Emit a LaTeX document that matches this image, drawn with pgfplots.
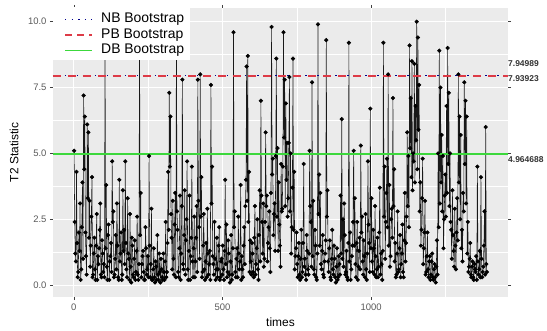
\documentclass[border=0pt]{standalone}
\usepackage{fontspec}
\setmainfont{Liberation Sans}
\usepackage{pgfplots}
\pgfplotsset{compat=1.18}
\definecolor{panelbg}{HTML}{EBEBEB}
\definecolor{nbcol}{HTML}{00008B}
\definecolor{pbcol}{HTML}{DD3B47}
\definecolor{dbcol}{HTML}{3CD83C}
\begin{document}
\begin{tikzpicture}
\begin{axis}[name=ax, scale only axis, width=455bp, height=289bp,
  xmin=-70, xmax=1460, ymin=-0.45, ymax=10.52,
  axis background/.style={fill=panelbg},
  axis line style={draw=none},
  xtick={0,500,1000}, xticklabels={0,500,1000},
  ytick={0,2.5,5,7.5,10}, yticklabels={0.0,2.5,5.0,7.5,10.0},
  minor xtick={250,750,1250}, minor ytick={1.25,3.75,6.25,8.75},
  grid=both,
  major grid style={white, line width=1.0bp},
  minor grid style={white, line width=0.5bp},
  tick align=outside, major tick length=3bp, minor tick length=0pt,
  tick style={black!75, line width=0.5bp},
  ticklabel style={font=\fontsize{9.5}{11}\selectfont, text=black!65},
  clip=false,
]
\addplot[black!90, line width=0.55bp, mark=*, mark size=1.8bp,
  mark options={draw=black, fill=black, solid}] coordinates {
(1,5.1)(3,2.4)(5,1.2)(7,0.9)(9,4.3)(11,1.6)(13,0.3)(15,0.5)(17,2.0)(19,1.3)(21,3.1)(23,0.2)(25,0.6)(27,2.2)(29,3.9)(31,1.0)(33,7.2)(35,4.4)(37,6.4)(39,2.0)(41,1.1)(43,0.4)(45,6.1)(47,3.3)(49,5.8)(51,1.8)(53,3.2)(55,0.7)(57,1.5)(59,2.6)(61,4.1)(63,0.3)(65,0.4)(67,1.2)(69,1.8)(71,0.6)(73,0.2)(75,1.5)(77,2.7)(79,0.2)(81,1.1)(83,0.8)(85,1.4)(87,2.1)(89,3.1)(91,0.4)(93,0.3)(95,1.7)(97,1.2)(99,0.5)
(101,0.8)(103,0.3)(105,9.6)(107,1.4)(109,3.8)(111,0.7)(113,0.2)(115,1.9)(117,2.3)(119,0.2)(121,0.9)(123,1.1)(125,1.6)(127,0.5)(129,4.7)(131,2.4)(133,2.8)(135,0.3)(137,0.4)(139,1.0)(141,1.9)(143,0.6)(145,3.1)(147,1.5)(149,0.3)(151,0.2)(153,4.0)(155,0.9)(157,1.2)(159,2.0)(161,0.2)(163,0.4)(165,3.6)(167,1.3)(169,2.1)(171,0.8)(173,4.7)(175,1.6)(177,0.6)(179,0.3)(181,3.3)(183,1.2)(185,1.0)(187,0.2)(189,2.7)(191,0.7)(193,0.1)(195,1.8)(197,1.5)(199,0.4)
(201,0.3)(203,1.0)(205,1.7)(207,0.2)(209,0.5)(211,1.3)(213,2.6)(215,0.4)(217,0.2)(219,0.8)(221,9.7)(223,1.9)(225,3.5)(227,0.3)(229,0.8)(231,1.1)(233,1.3)(235,0.5)(237,0.2)(239,0.2)(241,2.2)(243,1.4)(245,0.4)(247,0.6)(249,1.1)(251,0.3)(253,4.9)(255,1.5)(257,0.3)(259,0.8)(261,2.9)(263,0.2)(265,0.2)(267,0.6)(269,1.4)(271,0.3)(273,0.1)(275,0.9)(277,0.7)(279,0.2)(281,1.9)(283,0.4)(285,0.2)(287,1.2)(289,0.5)(291,0.1)(293,1.0)(295,0.6)(297,0.3)(299,0.2)
(301,1.2)(303,0.5)(305,0.2)(307,0.9)(309,2.4)(311,0.3)(313,0.5)(315,1.6)(317,4.3)(319,2.1)(321,7.3)(323,4.5)(325,6.4)(327,2.7)(329,1.8)(331,0.6)(333,3.2)(335,1.0)(337,0.4)(339,2.3)(341,3.5)(343,0.3)(345,9.7)(347,2.8)(349,2.1)(351,0.5)(353,0.3)(355,1.4)(357,3.4)(359,0.2)(361,1.2)(363,3.0)(365,7.8)(367,0.8)(369,0.6)(371,1.9)(373,3.6)(375,0.4)(377,1.7)(379,2.5)(381,4.7)(383,0.6)(385,0.2)(387,1.3)(389,3.4)(391,0.2)(393,1.1)(395,1.8)(397,4.5)(399,0.9)
(401,0.3)(403,1.4)(405,2.6)(407,0.3)(409,0.9)(411,1.8)(413,3.0)(415,0.5)(417,7.8)(419,3.2)(421,2.2)(423,1.0)(425,8.0)(427,2.6)(429,4.1)(431,0.3)(433,0.5)(435,1.5)(437,2.7)(439,0.6)(441,0.2)(443,0.9)(445,1.6)(447,0.3)(449,2.9)(451,1.2)(453,0.4)(455,0.8)(457,1.3)(459,0.2)(461,7.6)(463,3.1)(465,4.5)(467,1.1)(469,0.8)(471,0.4)(473,2.4)(475,1.0)(477,0.2)(479,0.6)(481,1.8)(483,0.3)(485,0.6)(487,1.5)(489,2.2)(491,0.2)(493,0.3)(495,0.9)(497,1.0)(499,0.4)
(501,1.5)(503,0.6)(505,0.2)(507,1.3)(509,4.0)(511,0.8)(513,2.3)(515,0.3)(517,0.5)(519,1.7)(521,1.2)(523,0.4)(525,0.1)(527,0.9)(529,1.9)(531,0.2)(533,0.4)(535,1.4)(537,9.6)(539,2.2)(541,2.8)(543,0.5)(545,0.3)(547,1.0)(549,1.4)(551,0.3)(553,2.6)(555,1.2)(557,0.6)(559,0.9)(561,3.8)(563,0.2)(565,1.1)(567,0.6)(569,0.3)(571,1.5)(573,2.2)(575,0.8)(577,3.0)(579,4.0)(581,8.3)(583,3.2)(585,8.7)(587,2.4)(589,4.3)(591,0.5)(593,1.7)(595,0.9)(597,0.4)(599,1.6)
(601,1.2)(603,0.5)(605,0.3)(607,1.8)(609,3.0)(611,0.4)(613,0.8)(615,1.4)(617,2.5)(619,0.6)(621,0.2)(623,1.9)(625,3.6)(627,0.9)(629,7.0)(631,3.4)(633,2.4)(635,1.2)(637,3.1)(639,0.7)(641,1.0)(643,2.4)(645,5.8)(647,3.0)(649,3.4)(651,0.9)(653,1.6)(655,2.2)(657,2.8)(659,1.4)(661,0.5)(663,3.5)(665,9.8)(667,4.2)(669,4.8)(671,1.9)(673,2.7)(675,3.1)(677,1.3)(679,4.9)(681,8.6)(683,2.6)(685,5.2)(687,1.3)(689,3.9)(691,2.3)(693,1.5)(695,0.7)(697,4.6)(699,2.8)
(701,2.9)(703,4.5)(705,9.6)(707,5.6)(709,7.8)(711,3.0)(713,6.9)(715,4.0)(717,5.4)(719,2.6)(721,3.3)(723,5.4)(725,7.9)(727,2.8)(729,5.0)(731,1.2)(733,2.2)(735,3.7)(737,8.6)(739,2.1)(741,4.3)(743,0.6)(745,1.1)(747,1.4)(749,2.0)(751,0.8)(753,0.3)(755,1.1)(757,1.6)(759,0.4)(761,0.2)(763,1.0)(765,2.1)(767,0.3)(769,0.5)(771,1.6)(773,4.6)(775,0.7)(777,1.0)(779,0.4)(781,0.2)(783,1.9)(785,1.3)(787,0.6)(789,0.4)(791,1.2)(793,5.1)(795,3.0)(797,2.4)(799,0.7)
(801,7.7)(803,1.1)(805,3.2)(807,0.6)(809,0.4)(811,2.1)(813,1.5)(815,0.3)(817,0.2)(819,1.2)(821,9.9)(823,2.7)(825,4.2)(827,1.5)(829,3.5)(831,0.8)(833,0.6)(835,1.3)(837,1.9)(839,0.4)(841,0.3)(843,0.9)(845,1.2)(847,1.7)(849,9.3)(851,2.6)(853,3.6)(855,0.9)(857,0.5)(859,1.4)(861,1.7)(863,0.3)(865,0.2)(867,1.0)(869,2.1)(871,0.6)(873,0.4)(875,1.5)(877,1.0)(879,0.3)(881,0.1)(883,0.7)(885,1.4)(887,0.2)(889,0.3)(891,1.1)(893,0.8)(895,0.4)(897,3.4)(899,1.2)
(901,6.3)(903,1.0)(905,2.5)(907,0.7)(909,3.1)(911,1.9)(913,0.4)(915,0.5)(917,1.3)(919,0.3)(921,0.2)(923,1.6)(925,9.2)(927,0.9)(929,2.0)(931,0.2)(933,0.6)(935,1.1)(937,1.5)(939,2.4)(941,5.1)(943,1.5)(945,3.3)(947,0.8)(949,0.3)(951,1.6)(953,2.4)(955,0.2)(957,0.7)(959,1.3)(961,1.8)(963,0.6)(965,5.3)(967,2.0)(969,2.6)(971,0.9)(973,0.4)(975,1.7)(977,1.1)(979,0.3)(981,2.7)(983,0.6)(985,0.2)(987,1.2)(989,4.7)(991,2.3)(993,1.6)(995,0.5)(997,6.7)(999,1.4)
(1001,3.3)(1003,0.9)(1005,0.5)(1007,2.1)(1009,1.4)(1011,0.4)(1013,3.0)(1015,1.1)(1017,0.3)(1019,0.6)(1021,1.8)(1023,0.3)(1025,0.7)(1027,2.0)(1029,3.7)(1031,0.4)(1033,1.2)(1035,0.8)(1037,0.2)(1039,1.3)(1041,9.2)(1043,2.6)(1045,4.5)(1047,1.0)(1049,2.4)(1051,3.5)(1053,4.8)(1055,2.2)(1057,8.0)(1059,1.5)(1061,3.8)(1063,0.7)(1065,1.1)(1067,2.5)(1069,2.9)(1071,1.8)(1073,7.1)(1075,3.0)(1077,4.4)(1079,0.9)(1081,1.6)(1083,0.3)(1085,0.4)(1087,1.2)(1089,2.8)(1091,0.5)(1093,0.6)(1095,1.4)(1097,1.9)(1099,0.3)
(1101,0.8)(1103,1.2)(1105,2.3)(1107,0.5)(1109,0.3)(1111,1.7)(1113,3.5)(1115,0.9)(1117,1.6)(1119,2.6)(1121,5.8)(1123,3.0)(1125,4.9)(1127,2.2)(1129,9.1)(1131,5.2)(1133,7.1)(1135,4.1)(1137,8.5)(1139,3.6)(1141,5.0)(1143,4.7)(1145,8.4)(1147,3.9)(1149,6.8)(1151,5.5)(1153,10.0)(1155,4.4)(1157,9.4)(1159,5.9)(1161,7.6)(1163,2.8)(1165,3.9)(1167,1.5)(1169,2.1)(1171,3.3)(1173,4.8)(1175,0.8)(1177,1.4)(1179,2.0)(1181,3.2)(1183,0.4)(1185,0.5)(1187,1.1)(1189,2.0)(1191,0.6)(1193,0.3)(1195,0.9)(1197,1.1)(1199,0.2)
(1201,0.4)(1203,0.9)(1205,1.2)(1207,0.3)(1209,0.2)(1211,0.6)(1213,0.8)(1215,0.3)(1217,0.1)(1219,0.7)(1221,1.7)(1223,0.4)(1225,5.0)(1227,2.2)(1229,8.9)(1231,3.1)(1233,7.5)(1235,3.9)(1237,5.7)(1239,2.8)(1241,4.9)(1243,1.4)(1245,2.5)(1247,3.4)(1249,4.2)(1251,2.6)(1253,6.8)(1255,3.5)(1257,9.0)(1259,4.6)(1261,7.3)(1263,3.0)(1265,5.0)(1267,2.4)(1269,2.1)(1271,1.0)(1273,3.6)(1275,1.9)(1277,1.3)(1279,0.7)(1281,2.9)(1283,1.5)(1285,0.6)(1287,2.0)(1289,3.3)(1291,1.7)(1293,8.0)(1295,3.9)(1297,6.4)(1299,2.5)
(1301,5.7)(1303,1.4)(1305,2.1)(1307,0.9)(1309,3.5)(1311,2.8)(1313,7.7)(1315,4.6)(1317,7.0)(1319,3.1)(1321,6.4)(1323,1.2)(1325,2.4)(1327,0.5)(1329,0.7)(1331,1.0)(1333,1.6)(1335,0.4)(1337,0.3)(1339,0.7)(1341,0.9)(1343,0.3)(1345,0.2)(1347,0.8)(1349,0.6)(1351,0.5)(1353,1.1)(1355,0.2)(1357,4.5)(1359,0.9)(1361,0.4)(1363,0.6)(1365,1.3)(1367,0.3)(1369,4.1)(1371,1.0)(1373,0.3)(1375,0.5)(1377,0.7)(1379,1.5)(1381,2.8)(1383,0.4)(1385,6.0)(1387,0.8)(1389,0.5)
};
\addplot[nbcol, line width=1.5bp, dash pattern=on 1.5bp off 4.5bp, no marks] coordinates {(-70,7.94989) (1460,7.94989)};
\addplot[pbcol, line width=1.6bp, dash pattern=on 8bp off 7bp, no marks] coordinates {(-70,7.93923) (1460,7.93923)};
\addplot[dbcol, line width=1.8bp, no marks] coordinates {(-70,4.964688) (1460,4.964688)};
\node[anchor=west, inner sep=0pt, font=\fontsize{8.5}{10}\selectfont\bfseries, text=black!80, yshift=12bp] at (axis cs:1460,7.94989) {7.94989};
\node[anchor=west, inner sep=0pt, font=\fontsize{8.5}{10}\selectfont\bfseries, text=black!80, yshift=-3bp] at (axis cs:1460,7.93923) {7.93923};
\node[anchor=west, inner sep=0pt, font=\fontsize{8.5}{10}\selectfont\bfseries, text=black!80, yshift=-5bp] at (axis cs:1460,4.964688) {4.964688};
\coordinate (L) at (rel axis cs:0,1);
\end{axis}
% legend
\fill[white] ([yshift=1bp]L) rectangle ([shift={(137bp,-52bp)}]L);
\node[anchor=west, inner sep=0pt, font=\fontsize{14}{16}\selectfont] at ([shift={(48bp,-11.5bp)}]L) {NB Bootstrap};
\node[anchor=west, inner sep=0pt, font=\fontsize{14}{16}\selectfont] at ([shift={(48bp,-27bp)}]L) {PB Bootstrap};
\node[anchor=west, inner sep=0pt, font=\fontsize{14}{16}\selectfont] at ([shift={(48bp,-42.5bp)}]L) {DB Bootstrap};
\node[anchor=west, inner sep=0pt, outer sep=0pt, minimum width=27bp, minimum height=1.6bp, fill=dbcol, draw=none] at ([shift={(12bp,-42.5bp)}]L) {};
\draw[pbcol, line width=1.6bp, dash pattern=on 7bp off 5bp] ([shift={(12bp,-27bp)}]L) -- ([shift={(39bp,-27bp)}]L);
\draw[nbcol, line width=1.4bp, dash pattern=on 1.4bp off 5.2bp] ([shift={(12bp,-11.5bp)}]L) -- ([shift={(39bp,-11.5bp)}]L);
\node[font=\fontsize{12}{14}\selectfont, xshift=-39bp, rotate=90] at (ax.west) {T2 Statistic};
\node[font=\fontsize{12}{14}\selectfont] at ([yshift=-25bp]ax.south) {times};
\pgfresetboundingbox
\path[use as bounding box] ([shift={(-53bp,-34bp)}]ax.south west) rectangle ([shift={(39bp,8bp)}]ax.north east);
\end{tikzpicture}
\end{document}
